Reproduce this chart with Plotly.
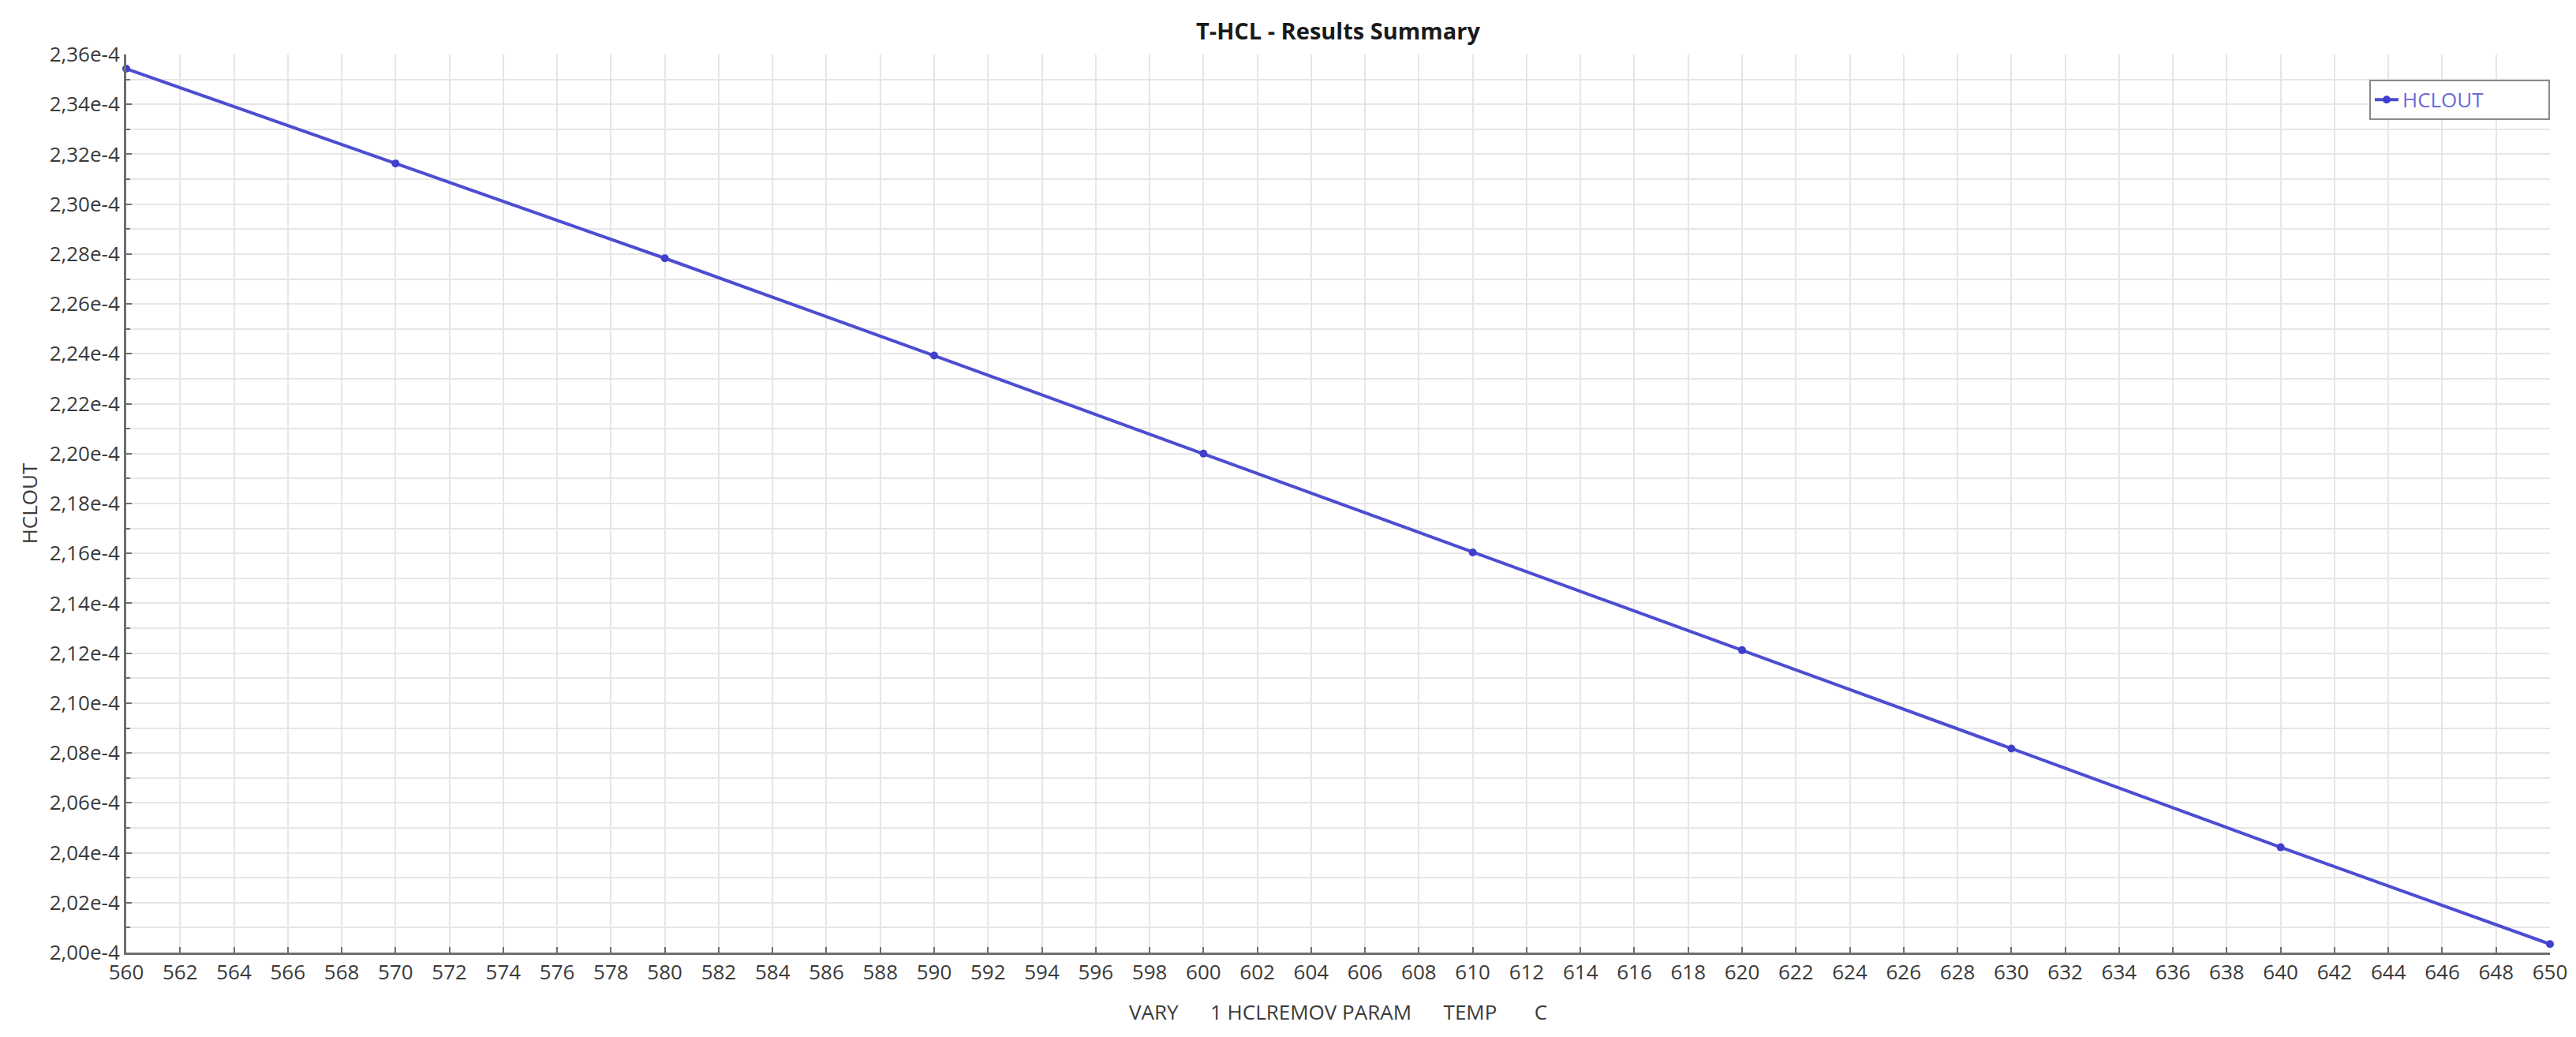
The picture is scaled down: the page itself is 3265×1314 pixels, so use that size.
import plotly.graph_objects as go

# sensitivity results: HCL removal temperature (C) vs HCLOUT
TEMP_C = [560, 570, 580, 590, 600, 610, 620, 630, 640, 650]
HCLOUT = [2.3543e-4, 2.3163e-4, 2.2783e-4, 2.2393e-4, 2.2000e-4,
          2.1604e-4, 2.1212e-4, 2.0818e-4, 2.0422e-4, 2.0034e-4]

X_TICKS = list(range(560, 652, 2))
Y_TICKS = [2.00e-4, 2.02e-4, 2.04e-4, 2.06e-4, 2.08e-4, 2.10e-4, 2.12e-4,
           2.14e-4, 2.16e-4, 2.18e-4, 2.20e-4, 2.22e-4, 2.24e-4, 2.26e-4,
           2.28e-4, 2.30e-4, 2.32e-4, 2.34e-4, 2.36e-4]
Y_TICK_LABELS = ["2,00e-4", "2,02e-4", "2,04e-4", "2,06e-4", "2,08e-4",
                 "2,10e-4", "2,12e-4", "2,14e-4", "2,16e-4", "2,18e-4",
                 "2,20e-4", "2,22e-4", "2,24e-4", "2,26e-4", "2,28e-4",
                 "2,30e-4", "2,32e-4", "2,34e-4", "2,36e-4"]

TITLE = "T-HCL - Results Summary"
NB = "\u00a0"
X_TITLE = f"VARY{NB * 6}1 HCLREMOV PARAM{NB * 6}TEMP{NB * 7}C"
Y_TITLE = "HCLOUT"

LINE_COLOR = "#4d4dd2"
GRID = "#e6e6e6"
TEXT = "#3a3a3a"
FONT = "Open Sans"

fig = go.Figure(
    go.Scatter(
        x=TEMP_C, y=HCLOUT, mode="lines+markers", name="HCLOUT",
        line=dict(color=LINE_COLOR, width=4),
        marker=dict(color="#3f3fcc", size=10),
        cliponaxis=False,
    )
)

fig.update_layout(
    width=3265, height=1314,
    margin=dict(l=152, r=41, t=61, b=115),
    paper_bgcolor="white", plot_bgcolor="white",
    font=dict(family=FONT, size=26, color=TEXT),
    title=dict(
        text=f"<b>{TITLE}</b>", x=0.5, xref="paper", xanchor="center",
        y=1 - 32 / 1314, yref="container", yanchor="middle",
        font=dict(family=FONT, size=29, color="#1a1a1a"),
    ),
    showlegend=True,
    legend=dict(
        orientation="h",
        x=1, xanchor="right", y=0.972, yanchor="top",
        bgcolor="white", bordercolor="#8a8a8a", borderwidth=2,
        font=dict(family=FONT, size=26, color="#6b6bd6"),
        entrywidth=180, itemwidth=30,
    ),
)

fig.update_xaxes(
    range=[560, 650], tickvals=X_TICKS, ticktext=[str(t) for t in X_TICKS],
    showgrid=True, gridcolor=GRID, gridwidth=2, zeroline=False,
    showline=True, linecolor="#6e6e6e", linewidth=3,
    ticks="inside", ticklen=7, tickcolor="#6e6e6e", tickwidth=2,
    tickfont=dict(size=26, color=TEXT),
    title=dict(text=X_TITLE, standoff=26, font=dict(size=26, color=TEXT)),
)

fig.update_yaxes(
    range=[2.00e-4, 2.36e-4], tickvals=Y_TICKS, ticktext=Y_TICK_LABELS,
    showgrid=True, gridcolor=GRID, gridwidth=2, zeroline=False,
    showline=True, linecolor="#6e6e6e", linewidth=3,
    ticks="inside", ticklen=7, tickcolor="#6e6e6e", tickwidth=2,
    minor=dict(dtick=1e-6, tick0=2.0e-4, showgrid=True, gridcolor=GRID,
               gridwidth=2, ticks="inside", ticklen=5, tickcolor="#6e6e6e"),
    tickfont=dict(size=26, color=TEXT),
    title=dict(text=Y_TITLE, standoff=8, font=dict(size=26, color=TEXT)),
)

fig.write_html("out.html")
